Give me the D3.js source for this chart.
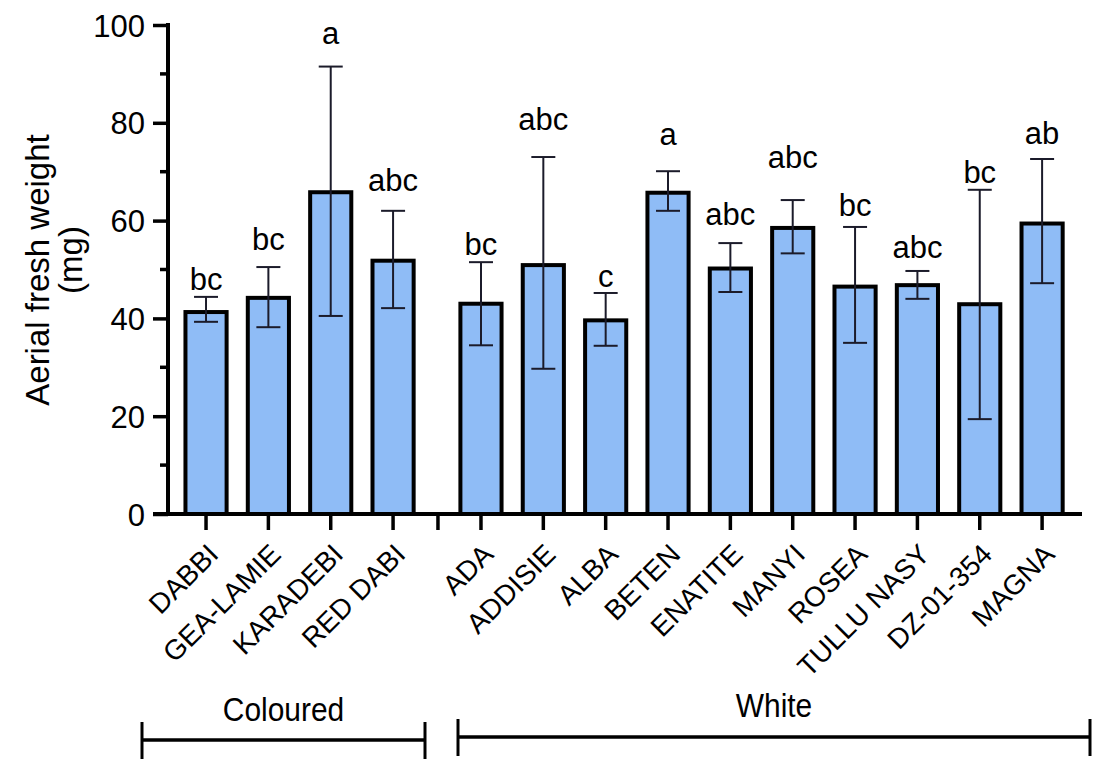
<!DOCTYPE html>
<html>
<head>
<meta charset="utf-8">
<script src="https://cdn.jsdelivr.net/npm/d3@7"></script>
<style>
  body { margin: 0; background: #fff; }
  svg text { font-family: "Liberation Sans", Arial, sans-serif; fill: #000; }
</style>
</head>
<body>
<svg id="chart" width="1097" height="765"></svg>
<script>
// values
const cultivars = ["DABBI", "GEA-LAMIE", "KARADEBI", "RED DABI",
  "ADA", "ADDISIE", "ALBA", "BETEN", "ENATITE", "MANYI", "ROSEA", "TULLU NASY", "DZ-01-354", "MAGNA"];
const groupOf = ["Coloured", "Coloured", "Coloured", "Coloured",
  "White", "White", "White", "White", "White", "White", "White", "White", "White", "White"];
const meanWeight = [41.3, 44.2, 65.8, 51.8, 43.0, 50.9, 39.6, 65.7, 50.2, 58.5, 46.5, 46.8, 42.9, 59.4];
const errLow  = [39.3, 38.2, 40.5, 42.1, 34.5, 29.7, 34.4, 62.0, 45.4, 53.3, 35.0, 44.0, 19.4, 47.2];
const errHigh = [44.4, 50.5, 91.5, 62.0, 51.5, 73.0, 45.2, 70.1, 55.4, 64.2, 58.7, 49.7, 66.3, 72.6];
const letters = ["bc", "bc", "a", "abc", "bc", "abc", "c", "a", "abc", "abc", "bc", "abc", "bc", "ab"];
// height (mg) where each letter group sits, as placed in the figure
const letterAt = [45.8, 54.0, 96.1, 66.1, 53.0, 78.5, 46.4, 75.5, 59.1, 70.8, 60.9, 52.4, 67.7, 75.7];
const groups = ["Coloured", "White"];
const yTicks = [0, 20, 40, 60, 80, 100];

const svg = d3.select("svg#chart");

const gapSlots = 0.41;   // extra space between the two groups
const slot = cultivars.map((c, i) => groupOf[i] === "White" ? i + gapSlots : i);

const x = d3.scaleLinear().domain([-0.61, 14.05]).range([168, 1082]);
const y = d3.scaleLinear().domain([0, 100]).range([514, 25]);
const barW = 0.66;

// bars
svg.append("g")
  .selectAll("rect")
  .data(cultivars)
  .enter().append("rect")
    .attr("x", (d, i) => x(slot[i] - barW / 2))
    .attr("width", x(barW) - x(0))
    .attr("y", (d, i) => y(meanWeight[i]))
    .attr("height", (d, i) => y(0) - y(meanWeight[i]))
    .attr("fill", "#8fbcf6")
    .attr("stroke", "#000")
    .attr("stroke-width", 4);

// error bars
const err = svg.append("g")
  .attr("stroke", "#1b1b2a")
  .attr("stroke-width", 2)
  .selectAll("g")
  .data(cultivars)
  .enter().append("g");
err.append("line")
  .attr("x1", (d, i) => x(slot[i])).attr("x2", (d, i) => x(slot[i]))
  .attr("y1", (d, i) => y(errLow[i])).attr("y2", (d, i) => y(errHigh[i]));
err.append("line")
  .attr("x1", (d, i) => x(slot[i]) - 12).attr("x2", (d, i) => x(slot[i]) + 12)
  .attr("y1", (d, i) => y(errHigh[i])).attr("y2", (d, i) => y(errHigh[i]));
err.append("line")
  .attr("x1", (d, i) => x(slot[i]) - 12).attr("x2", (d, i) => x(slot[i]) + 12)
  .attr("y1", (d, i) => y(errLow[i])).attr("y2", (d, i) => y(errLow[i]));

// significance letters
svg.append("g")
  .selectAll("text")
  .data(letters)
  .enter().append("text")
    .attr("x", (d, i) => x(slot[i]))
    .attr("y", (d, i) => y(letterAt[i]))
    .attr("text-anchor", "middle")
    .style("font-size", "31px")
    .text(d => d);

// y axis
const yAxis = svg.append("g")
  .attr("transform", "translate(168,0)")
  .call(d3.axisLeft(y).tickValues(yTicks).tickSize(15).tickPadding(8));
yAxis.select(".domain").attr("stroke-width", 4).attr("d", "M0," + (y(100) - 2) + "V" + y(0));
yAxis.selectAll(".tick line").attr("stroke-width", 3.5);
yAxis.selectAll(".tick text").style("font-size", "31px").attr("dy", "0.36em");
// minor ticks
svg.append("g")
  .selectAll("line")
  .data(d3.range(10, 100, 20))
  .enter().append("line")
    .attr("x1", 160).attr("x2", 168)
    .attr("y1", d => y(d)).attr("y2", d => y(d))
    .attr("stroke", "#000").attr("stroke-width", 3.5);

// x axis
const xAxis = svg.append("g").attr("transform", "translate(0," + y(0) + ")");
xAxis.append("line")
  .attr("x1", 153).attr("x2", 1082)
  .attr("stroke", "#000").attr("stroke-width", 4);
xAxis.selectAll("line.tk")
  .data(slot.concat([3.72]))
  .enter().append("line")
    .attr("class", "tk")
    .attr("x1", d => x(d)).attr("x2", d => x(d))
    .attr("y1", 0).attr("y2", 16)
    .attr("stroke", "#000").attr("stroke-width", 3.5);
xAxis.selectAll("text")
  .data(cultivars)
  .enter().append("text")
    .attr("transform", (d, i) => "translate(" + (x(slot[i]) + 14) + ",42) rotate(-45)")
    .attr("text-anchor", "end")
    .style("font-size", "28px")
    .text(d => d);

// y title
svg.append("text")
  .attr("transform", "translate(49,270) rotate(-90)")
  .attr("text-anchor", "middle")
  .style("font-size", "33px")
  .text("Aerial fresh weight");
svg.append("text")
  .attr("transform", "translate(82,260) rotate(-90)")
  .attr("text-anchor", "middle")
  .style("font-size", "33px")
  .text("(mg)");

// group brackets
const brackets = [
  { name: groups[0], x0: 142, x1: 425, ly: 740, ty: 721 },
  { name: groups[1], x0: 458, x1: 1090, ly: 737, ty: 717 }
];
const br = svg.append("g").selectAll("g").data(brackets).enter().append("g");
br.append("line")
  .attr("x1", d => d.x0).attr("x2", d => d.x1)
  .attr("y1", d => d.ly).attr("y2", d => d.ly)
  .attr("stroke", "#000").attr("stroke-width", 3.5);
br.append("line")
  .attr("x1", d => d.x0).attr("x2", d => d.x0)
  .attr("y1", d => d.ly - 18).attr("y2", d => d.ly + 19)
  .attr("stroke", "#000").attr("stroke-width", 3);
br.append("line")
  .attr("x1", d => d.x1).attr("x2", d => d.x1)
  .attr("y1", d => d.ly - 18).attr("y2", d => d.ly + 19)
  .attr("stroke", "#000").attr("stroke-width", 3);
br.append("text")
  .attr("transform", d => "translate(" + ((d.x0 + d.x1) / 2) + "," + d.ty + ") scale(0.88,1)")
  .attr("text-anchor", "middle")
  .style("font-size", "34px")
  .text(d => d.name);
</script>
</body>
</html>
